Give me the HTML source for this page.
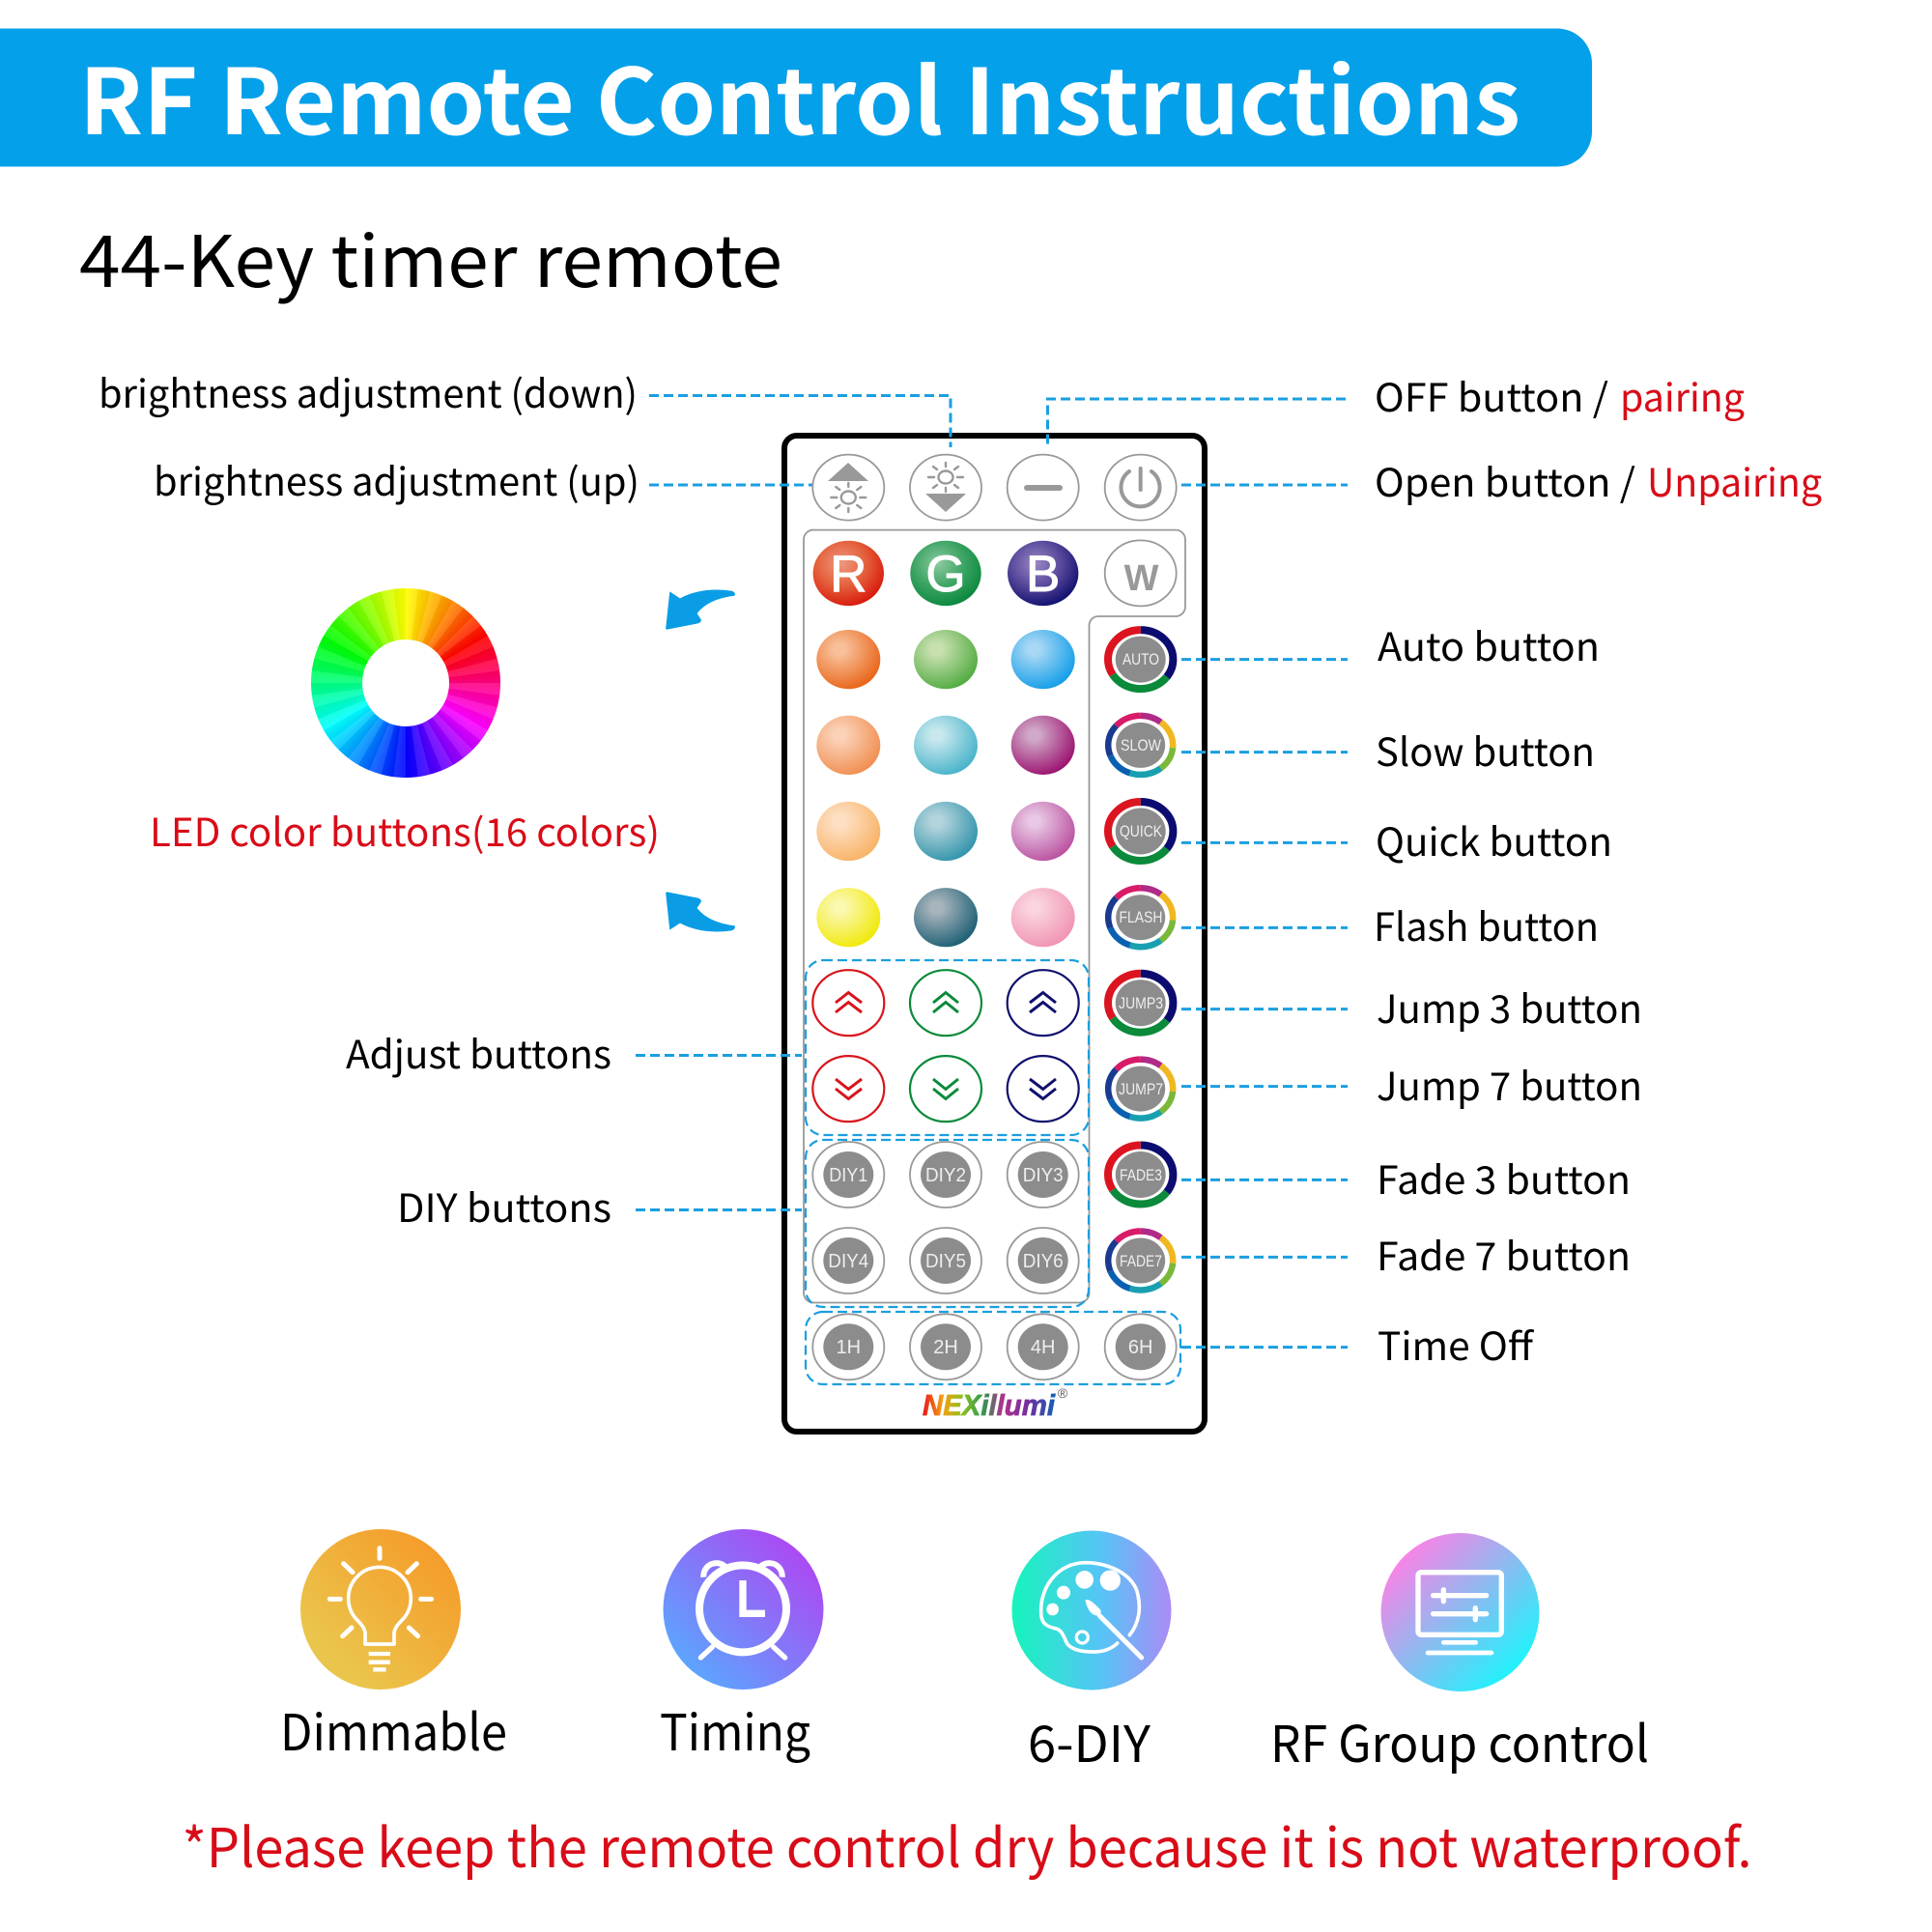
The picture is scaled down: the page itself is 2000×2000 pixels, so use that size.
<!DOCTYPE html>
<html><head><meta charset="utf-8"><style>
html,body{margin:0;padding:0;background:#fff}
#p{position:relative;width:2000px;height:2000px;overflow:hidden;background:#fff}
#w{position:absolute;left:322px;top:609px;width:196px;height:196px;border-radius:50%;background:repeating-conic-gradient(rgba(255,255,255,.10) 0 7.5deg,rgba(0,0,0,.03) 7.5deg 15deg),conic-gradient(#ff0,#f80 30deg,#f00 60deg,#f0f 120deg,#00f 180deg,#0ff 240deg,#0f0 300deg,#ff0 360deg)}
#w i{position:absolute;left:53px;top:53px;width:90px;height:90px;border-radius:50%;background:#fff}
svg{position:absolute;left:0;top:0}
text{font-family:"Noto Sans CJK SC","Liberation Sans",sans-serif}
.l{font-size:40px;fill:#000}
.b{font-family:"Liberation Sans",sans-serif;fill:#eee;text-anchor:middle}
.c{fill:none;stroke:#1a9fe0;stroke-width:3;stroke-dasharray:10 5}
.d{fill:none;stroke:#1a9fe0;stroke-width:2.2;stroke-dasharray:10 5}
.g{fill:#fff;stroke:#999;stroke-width:1.8}
.h{fill:none;stroke-width:3;stroke-linejoin:miter}
.o{fill:#fff;stroke-width:2.2}
.ic{fill:none;stroke:#fff;stroke-linecap:round;stroke-linejoin:round}
</style></head><body><div id="p"><div id="w"><i></i></div>
<svg width="2000" height="2000" viewBox="0 0 2000 2000" xmlns="http://www.w3.org/2000/svg">
<defs>
<radialGradient id="r1" cx=".4" cy=".35" r=".7"><stop offset="0" stop-color="#ee9a80"/><stop offset=".5" stop-color="#e4603c"/><stop offset="1" stop-color="#d81408"/></radialGradient>
<radialGradient id="r2" cx=".4" cy=".35" r=".7"><stop offset="0" stop-color="#8cc9a0"/><stop offset=".5" stop-color="#3ea565"/><stop offset="1" stop-color="#06863a"/></radialGradient>
<radialGradient id="r3" cx=".4" cy=".35" r=".7"><stop offset="0" stop-color="#9a88c4"/><stop offset=".5" stop-color="#5a4a9c"/><stop offset="1" stop-color="#0c0c6c"/></radialGradient>
<radialGradient id="a1" cx=".36" cy=".33" r=".75"><stop offset=".12" stop-color="#f8c09a"/><stop offset="1" stop-color="#e85f10"/></radialGradient>
<radialGradient id="a2" cx=".36" cy=".33" r=".75"><stop offset=".12" stop-color="#c8e0b0"/><stop offset="1" stop-color="#4aa83a"/></radialGradient>
<radialGradient id="a3" cx=".36" cy=".33" r=".75"><stop offset=".12" stop-color="#a8d8f4"/><stop offset="1" stop-color="#0a9ae8"/></radialGradient>
<radialGradient id="b1" cx=".36" cy=".33" r=".75"><stop offset=".12" stop-color="#fbd2b8"/><stop offset="1" stop-color="#f08a4a"/></radialGradient>
<radialGradient id="b2" cx=".36" cy=".33" r=".75"><stop offset=".12" stop-color="#c8e8ee"/><stop offset="1" stop-color="#3fb0c8"/></radialGradient>
<radialGradient id="b3" cx=".36" cy=".33" r=".75"><stop offset=".12" stop-color="#d0a8c8"/><stop offset="1" stop-color="#98086a"/></radialGradient>
<radialGradient id="c1" cx=".36" cy=".33" r=".75"><stop offset=".12" stop-color="#fde0c4"/><stop offset="1" stop-color="#f8b060"/></radialGradient>
<radialGradient id="c2" cx=".36" cy=".33" r=".75"><stop offset=".12" stop-color="#b4d4dc"/><stop offset="1" stop-color="#2a90a8"/></radialGradient>
<radialGradient id="c3" cx=".36" cy=".33" r=".75"><stop offset=".12" stop-color="#e8c8e4"/><stop offset="1" stop-color="#b84a9c"/></radialGradient>
<radialGradient id="d1" cx=".36" cy=".33" r=".75"><stop offset=".12" stop-color="#fbf8b0"/><stop offset="1" stop-color="#f0e800"/></radialGradient>
<radialGradient id="d2" cx=".36" cy=".33" r=".75"><stop offset=".12" stop-color="#a8b4bc"/><stop offset="1" stop-color="#145a70"/></radialGradient>
<radialGradient id="d3" cx=".36" cy=".33" r=".75"><stop offset=".12" stop-color="#fad4de"/><stop offset="1" stop-color="#f090b0"/></radialGradient>
<linearGradient id="i1" x1="0" y1="1" x2="1" y2="0"><stop offset=".2" stop-color="#eac54c"/><stop offset=".9" stop-color="#f69a28"/></linearGradient>
<linearGradient id="i2" x1="0" y1="1" x2="1" y2="0"><stop offset=".1" stop-color="#58aaff"/><stop offset=".9" stop-color="#b044f2"/></linearGradient>
<linearGradient id="i3" x1="0" y1="0" x2="1" y2="0"><stop offset="0" stop-color="#16f4bc"/><stop offset=".55" stop-color="#55c5f6"/><stop offset="1" stop-color="#aa8cf5"/></linearGradient>
<linearGradient id="i4" x1="0" y1="0" x2="1" y2="1"><stop offset=".12" stop-color="#ff80e6"/><stop offset=".88" stop-color="#18f6fc"/></linearGradient>
<linearGradient id="lg" x1="0" y1="0" x2="1" y2="0"><stop offset="0" stop-color="#e8141c"/><stop offset=".15" stop-color="#f5a010"/><stop offset=".3" stop-color="#8cc020"/><stop offset=".45" stop-color="#309a50"/><stop offset=".6" stop-color="#b0308c"/><stop offset=".8" stop-color="#7030a0"/><stop offset="1" stop-color="#1060b8"/></linearGradient>
<g id="ring3" fill="none" stroke-width="8">
<ellipse rx="33.7" ry="30.5" pathLength="360" stroke="#0c0c70" stroke-dasharray="125 235" stroke-dashoffset="-270"/>
<ellipse rx="33.7" ry="30.5" pathLength="360" stroke="#dc1420" stroke-dasharray="120 240" stroke-dashoffset="-150"/>
<ellipse rx="33.7" ry="30.5" pathLength="360" stroke="#0a8a3a" stroke-dasharray="115 245" stroke-dashoffset="-35"/>
<ellipse rx="26" ry="24" fill="#8c8c8c" stroke="none"/>
</g>
<g id="ring7" fill="none" stroke-width="6.5">
<ellipse rx="33.5" ry="30.5" pathLength="360" stroke="#b02a88" stroke-dasharray="40 320" stroke-dashoffset="-270"/>
<ellipse rx="33.5" ry="30.5" pathLength="360" stroke="#f0b820" stroke-dasharray="55 305" stroke-dashoffset="-310"/>
<ellipse rx="33.5" ry="30.5" pathLength="360" stroke="#7ab83a" stroke-dasharray="45 315" stroke-dashoffset="-5"/>
<ellipse rx="33.5" ry="30.5" pathLength="360" stroke="#18a0b0" stroke-dasharray="60 300" stroke-dashoffset="-50"/>
<ellipse rx="33.5" ry="30.5" pathLength="360" stroke="#0a60b0" stroke-dasharray="50 310" stroke-dashoffset="-110"/>
<ellipse rx="33.5" ry="30.5" pathLength="360" stroke="#1a3a90" stroke-dasharray="60 300" stroke-dashoffset="-160"/>
<ellipse rx="33.5" ry="30.5" pathLength="360" stroke="#d81b68" stroke-dasharray="50 310" stroke-dashoffset="-220"/>
<ellipse rx="25.5" ry="23.5" fill="#8c8c8c" stroke="none"/>
</g>
<g id="sun" fill="none" stroke="#999" stroke-width="2.4" stroke-linecap="round">
<ellipse rx="7.5" ry="6.5"/>
<path d="M0 -15V-11M0 15V11M-18 0H-12M18 0H12M-13 -11L-9 -8M13 -11L9 -8M-13 11L-9 8M13 11L9 8"/>
</g>
<path id="arr" fill="#0a9de6" d="M1180 97L1212 118Q1280 82 1372 95Q1386 100 1382 110Q1300 120 1265 165L1278 185Q1278 193 1268 196L1172 215Q1166 215 1168 208Z"/>
</defs>

<path d="M0 29.5H1612a36 36 0 0 1 36 36V136.5a36 36 0 0 1-36 36H0Z" fill="#05a0ea"/>
<text x="82" y="139" font-size="94" font-weight="700" fill="#fff" textLength="1492" lengthAdjust="spacingAndGlyphs">RF Remote Control Instructions</text>
<text x="82" y="297" font-size="74" fill="#000" textLength="728" lengthAdjust="spacingAndGlyphs">44-Key timer remote</text>

<text class="l" x="102" y="422" textLength="558" lengthAdjust="spacingAndGlyphs">brightness adjustment (down)</text>
<text class="l" x="159" y="513" textLength="503" lengthAdjust="spacingAndGlyphs">brightness adjustment (up)</text>
<text class="l" x="1423" y="426" textLength="242" lengthAdjust="spacingAndGlyphs">OFF button /</text>
<text class="l" x="1677" y="426" style="fill:#d80c18" textLength="129" lengthAdjust="spacingAndGlyphs">pairing</text>
<text class="l" x="1423" y="514" textLength="270" lengthAdjust="spacingAndGlyphs">Open button /</text>
<text class="l" x="1705" y="514" style="fill:#d80c18" textLength="181" lengthAdjust="spacingAndGlyphs">Unpairing</text>
<text class="l" x="1426" y="684" textLength="230" lengthAdjust="spacingAndGlyphs">Auto button</text>
<text class="l" x="1424" y="793" textLength="227" lengthAdjust="spacingAndGlyphs">Slow button</text>
<text class="l" x="1424" y="886" textLength="245" lengthAdjust="spacingAndGlyphs">Quick button</text>
<text class="l" x="1422" y="974" textLength="233" lengthAdjust="spacingAndGlyphs">Flash button</text>
<text class="l" x="1425" y="1059" textLength="275" lengthAdjust="spacingAndGlyphs">Jump 3 button</text>
<text class="l" x="1425" y="1139" textLength="275" lengthAdjust="spacingAndGlyphs">Jump 7 button</text>
<text class="l" x="1425" y="1236" textLength="263" lengthAdjust="spacingAndGlyphs">Fade 3 button</text>
<text class="l" x="1425" y="1315" textLength="263" lengthAdjust="spacingAndGlyphs">Fade 7 button</text>
<text class="l" x="1426" y="1408" textLength="161" lengthAdjust="spacingAndGlyphs">Time Off</text>
<text class="l" x="358" y="1106" textLength="275" lengthAdjust="spacingAndGlyphs">Adjust buttons</text>
<text class="l" x="411" y="1265" textLength="222" lengthAdjust="spacingAndGlyphs">DIY buttons</text>
<text class="l" x="155" y="876" style="fill:#d80c18" textLength="528" lengthAdjust="spacingAndGlyphs">LED color buttons(16 colors)</text>

<use href="#arr" transform="translate(300 580) scale(.3333)"/>
<use href="#arr" transform="matrix(.3333 0 0 -.3333 300 995)"/>

<!-- remote -->
<rect x="812" y="451" width="435" height="1031" rx="13" fill="#fff" stroke="#000" stroke-width="6"/>
<path d="M843 548.6H1217a10 10 0 0 1 10 10V628a10 10 0 0 1-10 10H1137a9.5 9.5 0 0 0-9.5 9.5V1338a10 10 0 0 1-10 10.5H842a10 10 0 0 1-10-10V559a10 10 0 0 1 11-10.4Z" fill="none" stroke="#999" stroke-width="1.8"/>

<path class="c" d="M672 409.5H984V463"/>
<path class="c" d="M1393 413H1084.500V463"/>
<path class="c" d="M672 502H842"/>
<path class="c" d="M1223 502H1395"/>
<path class="c" d="M1223 682.600H1395M1223 778.600H1395M1223 872.400H1395M1223 960.400H1395M1223 1044.600H1395M1223 1124.600H1395M1223 1221.400H1395M1223 1301.400H1395M1223 1394.600H1395"/>
<path class="c" d="M658 1092.500H830M658 1252.500H830"/>
<rect class="d" x="834" y="994" width="293" height="181" rx="18"/>
<rect class="d" x="834" y="1180" width="293" height="173" rx="18"/>
<rect class="d" x="834" y="1358" width="388" height="75" rx="18"/>

<!-- top row -->
<ellipse class="g" cx="878.300" cy="504.600" rx="37" ry="34"/>
<ellipse class="g" cx="979" cy="504.600" rx="37" ry="34"/>
<ellipse class="g" cx="1079.700" cy="504.600" rx="37" ry="34"/>
<ellipse class="g" cx="1180.700" cy="504.600" rx="37" ry="34"/>
<path d="M857 498L878 479L899 498Z" fill="#999"/>
<use href="#sun" x="878.300" y="515"/>
<use href="#sun" x="979" y="494"/>
<path d="M958 511L1000 511L979 530Z" fill="#999"/>
<rect x="1060" y="502" width="40" height="6" rx="3" fill="#999"/>
<path d="M1169 488A20 20 0 1 0 1192 488M1180.700 485V507" fill="none" stroke="#999" stroke-width="4" stroke-linecap="round"/>

<!-- RGBW -->
<ellipse cx="878.300" cy="593.400" rx="36.700" ry="33.700" fill="url(#r1)"/>
<ellipse cx="979" cy="593.400" rx="36.700" ry="33.700" fill="url(#r2)"/>
<ellipse cx="1079.700" cy="593.400" rx="36.700" ry="33.700" fill="url(#r3)"/>
<ellipse class="g" cx="1180.700" cy="593.400" rx="37" ry="34"/>
<g fill="#fff" stroke="#fff" stroke-width="1" text-anchor="middle" font-size="53">
<text x="878.300" y="612" style="font-family:'Liberation Sans',sans-serif">R</text>
<text x="979" y="612" style="font-family:'Liberation Sans',sans-serif">G</text>
<text x="1079.700" y="612" style="font-family:'Liberation Sans',sans-serif">B</text>
</g>
<text x="1181.500" y="611" font-size="38" font-weight="700" fill="#999" text-anchor="middle" style="font-family:'Liberation Sans',sans-serif">W</text>

<!-- color -->
<ellipse cx="878.300" cy="682.600" rx="33" ry="30.600" fill="url(#a1)"/>
<ellipse cx="979" cy="682.600" rx="33" ry="30.600" fill="url(#a2)"/>
<ellipse cx="1079.700" cy="682.600" rx="33" ry="30.600" fill="url(#a3)"/>
<ellipse cx="878.300" cy="771.400" rx="33" ry="30.600" fill="url(#b1)"/>
<ellipse cx="979" cy="771.400" rx="33" ry="30.600" fill="url(#b2)"/>
<ellipse cx="1079.700" cy="771.400" rx="33" ry="30.600" fill="url(#b3)"/>
<ellipse cx="878.300" cy="860.500" rx="33" ry="30.600" fill="url(#c1)"/>
<ellipse cx="979" cy="860.500" rx="33" ry="30.600" fill="url(#c2)"/>
<ellipse cx="1079.700" cy="860.500" rx="33" ry="30.600" fill="url(#c3)"/>
<ellipse cx="878.300" cy="949.700" rx="33" ry="30.600" fill="url(#d1)"/>
<ellipse cx="979" cy="949.700" rx="33" ry="30.600" fill="url(#d2)"/>
<ellipse cx="1079.700" cy="949.700" rx="33" ry="30.600" fill="url(#d3)"/>

<!-- rings -->
<use href="#ring3" x="1180.700" y="682.600"/>
<use href="#ring7" x="1180.700" y="771.400"/>
<use href="#ring3" x="1180.700" y="860.500"/>
<use href="#ring7" x="1180.700" y="949.700"/>
<use href="#ring3" x="1180.700" y="1038.200"/>
<use href="#ring7" x="1180.700" y="1127.100"/>
<use href="#ring3" x="1180.700" y="1216"/>
<use href="#ring7" x="1180.700" y="1305"/>
<g>
<text class="b" x="1181" y="688" font-size="17" textLength="38" lengthAdjust="spacingAndGlyphs">AUTO</text>
<text class="b" x="1181" y="777" font-size="17" textLength="42" lengthAdjust="spacingAndGlyphs">SLOW</text>
<text class="b" x="1181" y="866" font-size="17" textLength="44" lengthAdjust="spacingAndGlyphs">QUICK</text>
<text class="b" x="1181" y="955" font-size="17" textLength="45" lengthAdjust="spacingAndGlyphs">FLASH</text>
<text class="b" x="1181" y="1044" font-size="17" textLength="46" lengthAdjust="spacingAndGlyphs">JUMP3</text>
<text class="b" x="1181" y="1133" font-size="17" textLength="46" lengthAdjust="spacingAndGlyphs">JUMP7</text>
<text class="b" x="1181" y="1222" font-size="17" textLength="44" lengthAdjust="spacingAndGlyphs">FADE3</text>
<text class="b" x="1181" y="1311" font-size="17" textLength="44" lengthAdjust="spacingAndGlyphs">FADE7</text>
</g>

<!-- adjust -->
<ellipse class="o" stroke="#d8141c" cx="878.300" cy="1038.200" rx="37" ry="34"/>
<ellipse class="o" stroke="#0a8a3a" cx="979" cy="1038.200" rx="37" ry="34"/>
<ellipse class="o" stroke="#10106e" cx="1079.700" cy="1038.200" rx="37" ry="34"/>
<ellipse class="o" stroke="#d8141c" cx="878.300" cy="1127.100" rx="37" ry="34"/>
<ellipse class="o" stroke="#0a8a3a" cx="979" cy="1127.100" rx="37" ry="34"/>
<ellipse class="o" stroke="#10106e" cx="1079.700" cy="1127.100" rx="37" ry="34"/>
<path class="h" stroke="#d8141c" d="M865 1038L878.300 1027.500L892 1038M865 1048L878.300 1037.500L892 1048"/>
<path class="h" stroke="#0a8a3a" d="M966 1038L979 1027.500L992 1038M966 1048L979 1037.500L992 1048"/>
<path class="h" stroke="#10106e" d="M1066 1038L1079.700 1027.500L1093 1038M1066 1048L1079.700 1037.500L1093 1048"/>
<path class="h" stroke="#d8141c" d="M865 1117L878.300 1127.500L892 1117M865 1127L878.300 1137.500L892 1127"/>
<path class="h" stroke="#0a8a3a" d="M966 1117L979 1127.500L992 1117M966 1127L979 1137.500L992 1127"/>
<path class="h" stroke="#10106e" d="M1066 1117L1079.700 1127.500L1093 1117M1066 1127L1079.700 1137.500L1093 1127"/>

<!-- DIY / time -->
<g fill="#8c8c8c">
<ellipse class="g" cx="878.300" cy="1216" rx="37" ry="34"/><ellipse cx="878.300" cy="1216" rx="26" ry="24"/>
<ellipse class="g" cx="979" cy="1216" rx="37" ry="34"/><ellipse cx="979" cy="1216" rx="26" ry="24"/>
<ellipse class="g" cx="1079.700" cy="1216" rx="37" ry="34"/><ellipse cx="1079.700" cy="1216" rx="26" ry="24"/>
<ellipse class="g" cx="878.300" cy="1305" rx="37" ry="34"/><ellipse cx="878.300" cy="1305" rx="26" ry="24"/>
<ellipse class="g" cx="979" cy="1305" rx="37" ry="34"/><ellipse cx="979" cy="1305" rx="26" ry="24"/>
<ellipse class="g" cx="1079.700" cy="1305" rx="37" ry="34"/><ellipse cx="1079.700" cy="1305" rx="26" ry="24"/>
<ellipse class="g" cx="878.300" cy="1394.300" rx="37" ry="34"/><ellipse cx="878.300" cy="1394.300" rx="26" ry="24"/>
<ellipse class="g" cx="979" cy="1394.300" rx="37" ry="34"/><ellipse cx="979" cy="1394.300" rx="26" ry="24"/>
<ellipse class="g" cx="1079.700" cy="1394.300" rx="37" ry="34"/><ellipse cx="1079.700" cy="1394.300" rx="26" ry="24"/>
<ellipse class="g" cx="1180.700" cy="1394.300" rx="37" ry="34"/><ellipse cx="1180.700" cy="1394.300" rx="26" ry="24"/>
</g>
<text class="b" x="878.300" y="1223" font-size="20" textLength="40" lengthAdjust="spacingAndGlyphs">DIY1</text>
<text class="b" x="979" y="1223" font-size="20" textLength="42" lengthAdjust="spacingAndGlyphs">DIY2</text>
<text class="b" x="1079.700" y="1223" font-size="20" textLength="42" lengthAdjust="spacingAndGlyphs">DIY3</text>
<text class="b" x="878.300" y="1312" font-size="20" textLength="42" lengthAdjust="spacingAndGlyphs">DIY4</text>
<text class="b" x="979" y="1312" font-size="20" textLength="42" lengthAdjust="spacingAndGlyphs">DIY5</text>
<text class="b" x="1079.700" y="1312" font-size="20" textLength="42" lengthAdjust="spacingAndGlyphs">DIY6</text>
<text class="b" x="878.300" y="1401" font-size="20">1H</text>
<text class="b" x="979" y="1401" font-size="20">2H</text>
<text class="b" x="1079.700" y="1401" font-size="20">4H</text>
<text class="b" x="1180.700" y="1401" font-size="20">6H</text>

<text x="955" y="1465" font-size="31" font-weight="700" font-style="italic" fill="url(#lg)" stroke="url(#lg)" stroke-width=".8" textLength="137" lengthAdjust="spacingAndGlyphs" style="font-family:'Liberation Sans',sans-serif">NEXillumi</text>
<text x="1100" y="1447" font-size="14" fill="#555" style="font-family:'Liberation Sans',sans-serif" text-anchor="middle">®</text>

<!-- feature icons -->
<circle cx="394" cy="1666" r="83" fill="url(#i1)"/>
<circle cx="769.500" cy="1666" r="83" fill="url(#i2)"/>
<circle cx="1130" cy="1667" r="82.500" fill="url(#i3)"/>
<circle cx="1511.500" cy="1669" r="82" fill="url(#i4)"/>

<g transform="translate(304 1576) scale(.3333)" class="ic">
<path stroke-width="11" d="M222 378V345Q222 328 200 306A97 97 0 1 1 334 306Q312 328 312 345V378Z"/>
<path stroke-width="15" d="M267 80V112M155 128L183 155M382 128L354 155M112 238H145M395 238H428M152 353L180 327M386 353L358 327"/>
<path stroke-width="13" stroke-linecap="butt" d="M233 408H300M233 434H300M247 457H287"/>
</g>
<g transform="translate(680 1576) scale(.3333)" class="ic">
<circle cx="267" cy="268" r="135" stroke-width="24"/>
<path stroke-width="18" stroke-linecap="butt" d="M145 170A40 40 0 0 1 215 140M319 140A40 40 0 0 1 389 170"/>
<path stroke-width="22" stroke-linecap="butt" stroke-linejoin="miter" d="M267 180V283H336"/>
<path stroke-width="16" d="M172 387L136 420M362 387L398 420"/>
</g>
<g transform="translate(1040 1576) scale(.3333)" class="ic">
<path stroke-width="11" d="M388 350C420 310 425 260 410 210C385 150 310 125 250 125C170 125 110 195 113 280C113 320 140 325 160 330C180 335 185 360 195 378C215 400 250 402 280 402C310 402 335 390 350 375"/>
<g fill="#fff" stroke="none"><circle cx="248" cy="178" r="28"/><circle cx="328" cy="180" r="32"/><circle cx="183" cy="218" r="21"/><circle cx="149" cy="270" r="19"/>
<path d="M250 242Q262 232 298 272Q302 285 290 290Q262 290 250 242Z"/></g>
<circle cx="241" cy="357" r="18" stroke-width="10"/>
<path stroke-width="15" d="M295 290L425 420"/>
</g>
<g transform="translate(1422 1580) scale(.3333)" class="ic">
<rect x="138" y="143" width="259" height="194" rx="10" stroke-width="16"/>
<path stroke-width="16" d="M185 215H350M185 272H350M217 197V233M316 254V290"/>
<path stroke-width="14" d="M217 361H317M168 393H366"/>
</g>

<text x="290" y="1812" font-size="52" fill="#000" textLength="235" lengthAdjust="spacingAndGlyphs">Dimmable</text>
<text x="683" y="1812" font-size="52" fill="#000" textLength="156" lengthAdjust="spacingAndGlyphs">Timing</text>
<text x="1064" y="1824" font-size="52" fill="#000" textLength="127" lengthAdjust="spacingAndGlyphs">6-DIY</text>
<text x="1315" y="1824" font-size="52" fill="#000" textLength="392" lengthAdjust="spacingAndGlyphs">RF Group control</text>
<text x="188.500" y="1933" font-size="56" style="fill:#d80c18" textLength="1625" lengthAdjust="spacingAndGlyphs">*Please keep the remote control dry because it is not waterproof.</text>
</svg></div></body></html>
